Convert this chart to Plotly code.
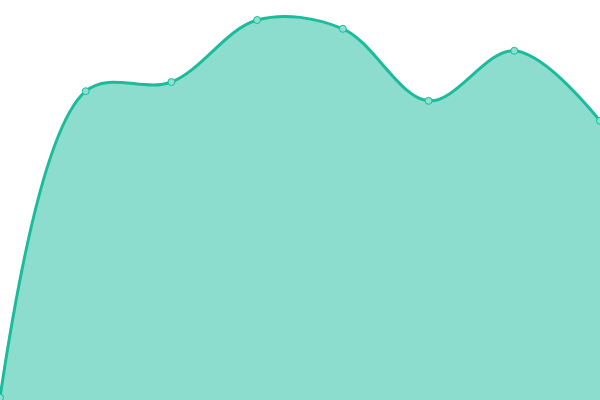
import plotly.graph_objects as go

# data
xs = [0, 1, 2, 3, 4, 5, 6, 7]
values = [0.6, 77.2, 79.5, 95.0, 92.8, 74.8, 87.3, 69.8]

fig = go.Figure()
fig.add_trace(go.Scatter(
    x=xs,
    y=values,
    mode="lines+markers",
    line=dict(color="#1abc9c", width=3, shape="spline", smoothing=1),
    marker=dict(size=7, color="#8ce0cf", line=dict(color="#1abc9c", width=1)),
    fill="tozeroy",
    fillcolor="rgba(26,188,156,0.5)",
    showlegend=False,
))

fig.update_layout(
    width=600,
    height=400,
    margin=dict(l=0, r=0, t=0, b=0),
    paper_bgcolor="white",
    plot_bgcolor="white",
    xaxis=dict(range=[0, 7], visible=False),
    yaxis=dict(range=[0, 100], visible=False),
)

# drop the default page margin so the chart sits flush in the window
fig.write_html("out.html", config={"displayModeBar": False},
               post_script="document.body.style.margin='0';")
